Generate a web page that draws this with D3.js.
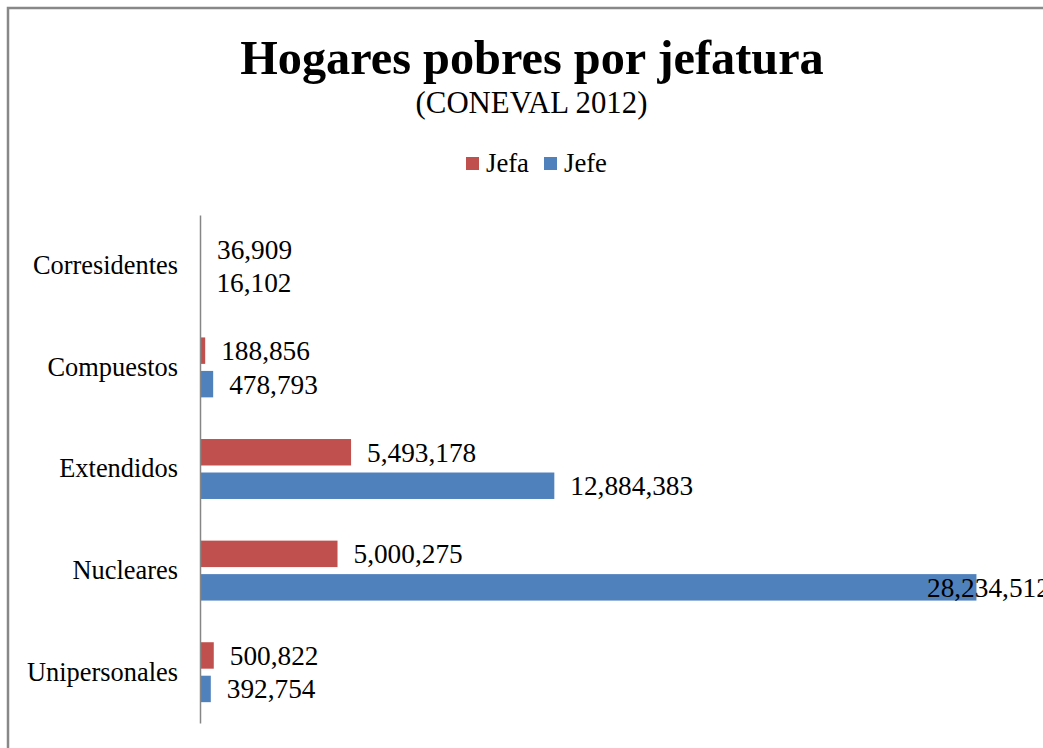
<!DOCTYPE html>
<html><head><meta charset="utf-8">
<script src="https://cdn.jsdelivr.net/npm/d3@7"></script>
<style>body{margin:0;background:#fff}svg{display:block}</style>
</head><body>
<script>
const categories = ["Corresidentes","Compuestos","Extendidos","Nucleares","Unipersonales"];
const series = ["Jefa","Jefe"];
const jefa = [36909, 188856, 5493178, 5000275, 500822];
const jefe = [16102, 478793, 12884383, 28234512, 392754];
const colors = ["#C0504D","#4F81BD"];

const FONT = "Liberation Serif";
const W = 1043, H = 748;
const svg = d3.select("body").append("svg").attr("width",W).attr("height",H).style("font-family",FONT);
svg.append("rect").attr("x",8).attr("y",8).attr("width",W+20).attr("height",H+20)
  .attr("fill","#fff").attr("stroke","#888").attr("stroke-width",2.5);

svg.append("text").attr("x",532).attr("y",74).attr("text-anchor","middle").style("font-family",FONT)
  .attr("font-size",48.3).attr("font-weight","bold").text("Hogares pobres por jefatura");
svg.append("text").attr("x",531.5).attr("y",113).attr("text-anchor","middle").style("font-family",FONT)
  .attr("font-size",30.8).text("(CONEVAL 2012)");

// legend
const lg = svg.append("g");
const legX = [466, 544];
series.forEach((s,i)=>{
  lg.append("rect").attr("x",legX[i]).attr("y",157).attr("width",13).attr("height",13).attr("fill",colors[i]);
  lg.append("text").attr("x",legX[i]+20).attr("y",172).style("font-family",FONT).attr("font-size",26.7).text(s);
});

const x = d3.scaleLinear().domain([0,30000000]).range([200,1025]);
const y = d3.scaleBand().domain(categories).range([215,723]).paddingInner(0.41).paddingOuter(0.205);
const ys = d3.scaleBand().domain(series).range([0,y.bandwidth()]).paddingInner(0.21);

const data = categories.map((c,i)=>({c, vals:[jefa[i], jefe[i]]}));
const g = svg.append("g");
data.forEach(d=>{
  d.vals.forEach((v,j)=>{
    const yy = y(d.c)+ys(series[j]);
    g.append("rect").attr("x",x(0)).attr("y",yy).attr("width",x(v)-x(0)).attr("height",ys.bandwidth())
      .attr("fill",colors[j]);
    let lx = x(v)+16;
    if (lx > W-120) lx = W-116;
    g.append("text").attr("x",lx).attr("y",yy+ys.bandwidth()/2).attr("dy","0.35em")
      .style("font-family",FONT).attr("font-size",27.3).text(d3.format(",")(v));
  });
});

const ax = svg.append("g").attr("transform","translate(200,0)").call(d3.axisLeft(y).tickSize(0).tickPadding(22));
ax.attr("font-family",null).style("font-family",FONT);
ax.select(".domain").attr("stroke","#868686").attr("stroke-width",1.5);
ax.selectAll("text").attr("font-size",26.4).attr("fill","#000").style("font-family",FONT);
</script>
</body></html>
